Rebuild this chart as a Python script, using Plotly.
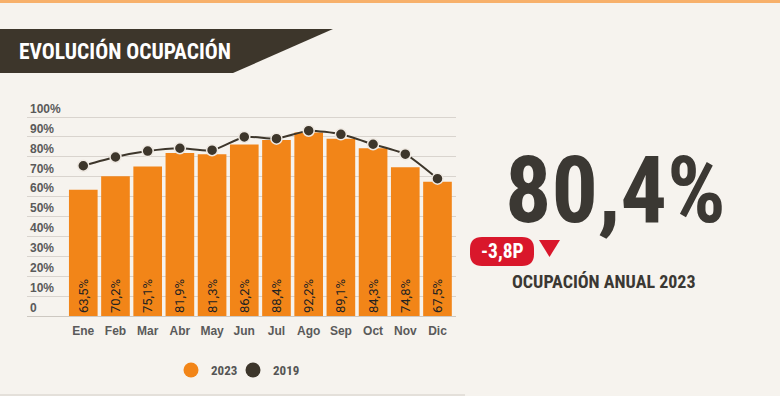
import plotly.graph_objects as go

W, H = 780, 396

months = ["Ene", "Feb", "Mar", "Abr", "May", "Jun", "Jul", "Ago", "Sep", "Oct", "Nov", "Dic"]
occ_2023 = [63.5, 70.2, 75.1, 81.9, 81.3, 86.2, 88.4, 92.2, 89.1, 84.3, 74.8, 67.5]
occ_2019 = [75.5, 79.9, 82.9, 84.3, 83.3, 90.0, 89.1, 93.1, 91.3, 86.3, 81.3, 69.0]
y_tickvals = [0, 10, 20, 30, 40, 50, 60, 70, 80, 90, 100]
y_ticktext = ["0", "10%", "20%", "30%", "40%", "50%", "60%", "70%", "80%", "90%", "100%"]
annual_value = "80,4%"
annual_change = "-3,8P"
annual_label = "OCUPACIÓN ANUAL 2023"
title_text = "EVOLUCIÓN OCUPACIÓN"

ORANGE = "#f28518"
DARK = "#3d362b"
BG = "#f6f3ee"
NARROW = "Roboto Condensed, Roboto, sans-serif"
ROBOTO = "Roboto, sans-serif"
SANS = "Liberation Sans, Arial, sans-serif"


def X(p):
    return p / W


def Y(p):
    return 1 - p / H


def fmt(v):
    return f"{v:.1f}".replace(".", ",") + "%"


def rounded_rect(x0, y0, x1, y1, r):
    pts = [
        f"M {X(x0 + r)},{Y(y0)}",
        f"L {X(x1 - r)},{Y(y0)}",
        f"Q {X(x1)},{Y(y0)} {X(x1)},{Y(y0 + r)}",
        f"L {X(x1)},{Y(y1 - r)}",
        f"Q {X(x1)},{Y(y1)} {X(x1 - r)},{Y(y1)}",
        f"L {X(x0 + r)},{Y(y1)}",
        f"Q {X(x0)},{Y(y1)} {X(x0)},{Y(y1 - r)}",
        f"L {X(x0)},{Y(y0 + r)}",
        f"Q {X(x0)},{Y(y0)} {X(x0 + r)},{Y(y0)}",
        "Z",
    ]
    return " ".join(pts)


fig = go.Figure()

fig.add_trace(go.Bar(
    x=months, y=occ_2023, name="2023", showlegend=False,
    marker=dict(color=ORANGE, line=dict(width=0)),
    text=[fmt(v) for v in occ_2023],
    textposition="inside", insidetextanchor="start", textangle=-90,
    textfont=dict(family=ROBOTO, size=13, color="#222222"),
    cliponaxis=False,
))

fig.add_trace(go.Scatter(
    x=months, y=occ_2019, name="2019", showlegend=False,
    mode="lines+markers",
    line=dict(color=DARK, width=2, shape="spline", smoothing=0.6),
    marker=dict(color=DARK, size=11, line=dict(color="#efe9e2", width=1.5)),
    cliponaxis=False,
))

# legend entries
fig.add_trace(go.Scatter(x=[None], y=[None], name="2023", mode="markers", legend="legend",
                         marker=dict(color=ORANGE, size=15, symbol="circle")))
fig.add_trace(go.Scatter(x=[None], y=[None], name="2019", mode="markers", legend="legend2",
                         marker=dict(color=DARK, size=15, symbol="circle")))

shapes = [
    dict(type="rect", xref="paper", yref="paper", x0=0, x1=1, y0=Y(3), y1=1,
         fillcolor="#f7b06a", line=dict(width=0), layer="below"),
    dict(type="path", xref="paper", yref="paper",
         path=f"M {X(0)},{Y(29)} L {X(333)},{Y(29)} L {X(233)},{Y(73)} L {X(0)},{Y(73)} Z",
         fillcolor=DARK, line=dict(width=0)),
    dict(type="path", xref="paper", yref="paper", path=rounded_rect(470, 237, 534, 266, 12),
         fillcolor="#d9172b", line=dict(width=0)),
    dict(type="path", xref="paper", yref="paper",
         path=f"M {X(539)},{Y(240)} L {X(560)},{Y(240)} L {X(549.5)},{Y(257)} Z",
         fillcolor="#d9172b", line=dict(width=0)),
    dict(type="line", xref="paper", yref="paper", x0=0, x1=X(465), y0=Y(395), y1=Y(395),
         line=dict(color="#e4e0da", width=2)),
]

annotations = [
    dict(text=title_text, xref="paper", yref="paper", x=X(17), y=Y(51), xanchor="left",
         yanchor="middle", showarrow=False,
         font=dict(family=NARROW, size=21.5, color="white", weight="bold")),
    dict(text=annual_value, xref="paper", yref="paper", x=X(615), y=Y(191), xanchor="center",
         yanchor="middle", showarrow=False,
         font=dict(family=NARROW, size=92, color="#3b3833", weight="bold")),
    dict(text=annual_change, xref="paper", yref="paper", x=X(502), y=Y(251.5), xanchor="center",
         yanchor="middle", showarrow=False,
         font=dict(family=NARROW, size=19.5, color="white", weight="bold")),
    dict(text=annual_label, xref="paper", yref="paper", x=X(510), y=Y(281), xanchor="left",
         yanchor="middle", showarrow=False,
         font=dict(family=NARROW, size=18, color="#3b3833", weight="bold")),
]

legend_common = dict(orientation="h", xanchor="left", yanchor="middle",
                     bgcolor="rgba(0,0,0,0)", itemsizing="trace",
                     font=dict(family=NARROW, size=13, color="#555555", weight="bold"))

fig.update_layout(
    width=W, height=H,
    margin=dict(l=0, r=0, t=0, b=0),
    paper_bgcolor=BG, plot_bgcolor=BG,
    bargap=0.11,
    shapes=shapes,
    annotations=annotations,
    showlegend=True,
    legend=dict(x=X(171), y=Y(370), **legend_common),
    legend2=dict(x=X(233), y=Y(370), **legend_common),
    xaxis=dict(
        domain=[X(27), X(456)],
        range=[-1.748, 11.575],
        showgrid=False, zeroline=False, showline=False, ticks="",
        ticklabelstandoff=6,
        tickfont=dict(family=SANS, size=12, color="#5a5a5a", weight="bold"),
        fixedrange=True,
    ),
    yaxis=dict(
        domain=[Y(316), Y(316 - 108 * 1.99)],
        range=[0, 108],
        tickvals=y_tickvals, ticktext=y_ticktext,
        ticklabelposition="inside top",
        showgrid=True, gridcolor="#d9d4ce", gridwidth=1,
        zeroline=True, zerolinecolor="#cdc8c1", zerolinewidth=1,
        showline=False, ticks="",
        tickfont=dict(family=SANS, size=12, color="#5a5a5a", weight="bold"),
        fixedrange=True,
    ),
)

fig.write_html("out.html", config={"displayModeBar": False},
               post_script="document.body.style.margin='0';")
